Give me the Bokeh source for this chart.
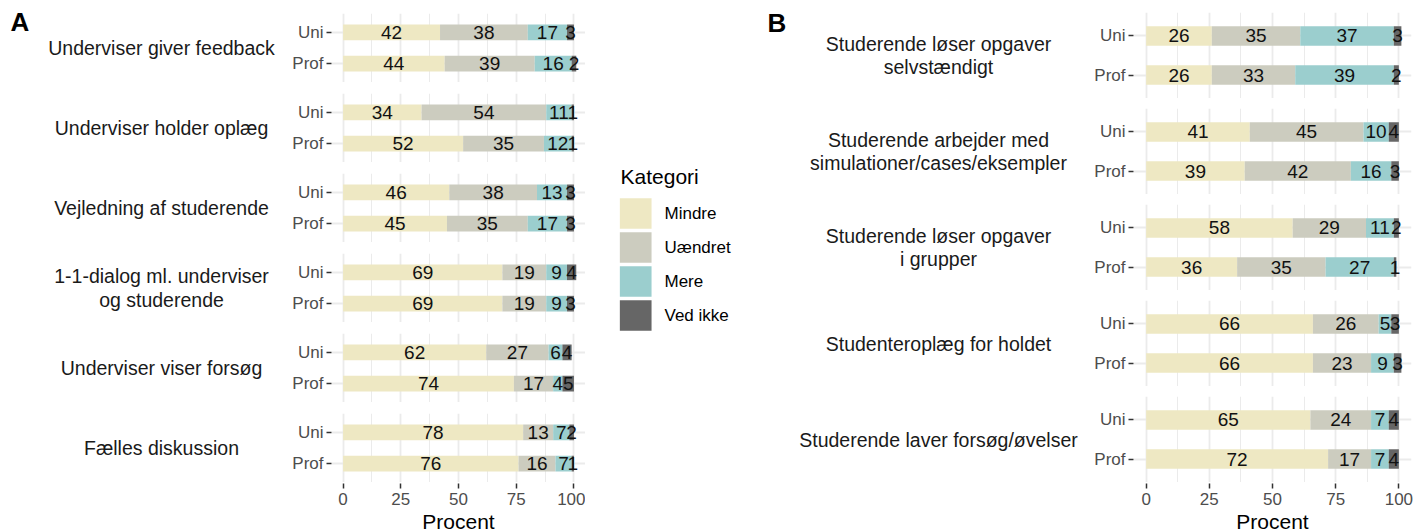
from bokeh.plotting import figure
from bokeh.layouts import row, column
from bokeh.models import ColumnDataSource, FactorRange, Range1d, FixedTicker, Spacer
from bokeh.core.properties import value
from bokeh.embed import file_html
from bokeh.resources import INLINE

FONT = "Liberation Sans"

# ---------------- data ----------------
categories = ["Mindre", "Uændret", "Mere", "Ved ikke"]
colors = ["#EEE8C3", "#CCCCBF", "#9BCECE", "#666666"]
groups = ["Uni", "Prof"]
x_ticks = [0, 25, 50, 75, 100]
x_minor_ticks = [12.5, 37.5, 62.5, 87.5]
x_label = "Procent"
legend_title = "Kategori"

a_items = ["Underviser giver feedback", "Underviser holder oplæg", "Vejledning af studerende",
           "1-1-dialog ml. underviser\nog studerende", "Underviser viser forsøg", "Fælles diskussion"]
a_mindre_uni = [42, 34, 46, 69, 62, 78]
a_mindre_prof = [44, 52, 45, 69, 74, 76]
a_uaendret_uni = [38, 54, 38, 19, 27, 13]
a_uaendret_prof = [39, 35, 35, 19, 17, 16]
a_mere_uni = [17, 11, 13, 9, 6, 7]
a_mere_prof = [16, 12, 17, 9, 4, 7]
a_vedikke_uni = [3, 1, 3, 4, 4, 2]
a_vedikke_prof = [2, 1, 3, 3, 5, 1]

b_items = ["Studerende løser opgaver\nselvstændigt", "Studerende arbejder med\nsimulationer/cases/eksempler",
           "Studerende løser opgaver\ni grupper", "Studenteroplæg for holdet", "Studerende laver forsøg/øvelser"]
b_mindre_uni = [26, 41, 58, 66, 65]
b_mindre_prof = [26, 39, 36, 66, 72]
b_uaendret_uni = [35, 45, 29, 26, 24]
b_uaendret_prof = [33, 42, 35, 23, 17]
b_mere_uni = [37, 10, 11, 5, 7]
b_mere_prof = [39, 16, 27, 9, 7]
b_vedikke_uni = [3, 4, 2, 3, 4]
b_vedikke_prof = [2, 3, 1, 3, 4]

GRID = "#EBEBEB"


def base_fig(**kw):
    return figure(toolbar_location=None, output_backend="svg", outline_line_color=None,
                  background_fill_color="white", border_fill_color="white", **kw)


def facet_fig(uni, prof, fw, fh, top, left, right):
    data = {"grp": groups}
    for c, u, pv in zip(categories, uni, prof):
        data[c] = [u, pv]
    src = ColumnDataSource(data)
    lx, ly, lt = [], [], []
    for g, vals in zip(groups, (uni, prof)):
        s = 0
        for v in vals:
            lx.append(s + v / 2)
            ly.append(g)
            lt.append(str(v))
            s += v
    p = base_fig(y_range=FactorRange(factors=groups[::-1], range_padding=0.1),
                 x_range=Range1d(-5, 105), frame_width=fw, frame_height=fh,
                 min_border_top=top, min_border_bottom=0, min_border_left=left, min_border_right=right,
                 x_axis_location=None)
    p.hbar_stack(categories, y="grp", height=0.5, color=colors, line_color=None, source=src)
    p.text(x=lx, y=ly, text=lt, text_align="center", text_baseline="middle",
           text_font=value(FONT), text_font_size="19px", text_color="#111111")
    p.xgrid.ticker = FixedTicker(ticks=x_ticks, minor_ticks=x_minor_ticks)
    p.xgrid.grid_line_color = GRID
    p.xgrid.grid_line_width = 1.8
    p.xgrid.minor_grid_line_color = GRID
    p.xgrid.minor_grid_line_width = 1.0
    p.ygrid.grid_line_color = GRID
    p.ygrid.grid_line_width = 1.8
    ya = p.yaxis[0]
    ya.axis_line_color = None
    ya.major_tick_in = 0
    ya.major_tick_out = 5
    ya.major_tick_line_color = "#333333"
    ya.major_tick_line_width = 1.5
    ya.major_label_standoff = 3
    ya.major_label_text_font = FONT
    ya.major_label_text_font_size = "17px"
    ya.major_label_text_color = "#4D4D4D"
    return p


def axis_fig(fw, left, right):
    p = base_fig(x_range=Range1d(-5, 105), y_range=Range1d(0, 1), frame_width=fw, frame_height=1,
                 min_border_top=0, min_border_bottom=0, min_border_left=left, min_border_right=right,
                 y_axis_location=None)
    p.grid.visible = False
    xa = p.xaxis[0]
    xa.ticker = FixedTicker(ticks=x_ticks, minor_ticks=[])
    xa.axis_line_color = None
    xa.major_tick_in = 0
    xa.major_tick_out = 5
    xa.minor_tick_line_color = None
    xa.major_tick_line_color = "#333333"
    xa.major_tick_line_width = 1.5
    xa.major_label_standoff = 4
    xa.major_label_text_font = FONT
    xa.major_label_text_font_size = "17px"
    xa.major_label_text_color = "#4D4D4D"
    xa.axis_label = x_label
    xa.axis_label_standoff = 2
    xa.axis_label_text_font = FONT
    xa.axis_label_text_font_size = "21px"
    xa.axis_label_text_font_style = "normal"
    xa.axis_label_text_color = "#000000"
    return p


def panel(items, mu, mp, uu, up, eu, ep, vu, vp, letter, lw, lcx, lx, ly,
          fw, fh, top, left, right, gap):
    n = len(items)
    facets = []
    centers = []
    for i in range(n):
        uni = [mu[i], uu[i], eu[i], vu[i]]
        prof = [mp[i], up[i], ep[i], vp[i]]
        t = top if i == 0 else 0
        facets.append(facet_fig(uni, prof, fw, fh, t, left, right))
        centers.append(top + i * (fh + gap) + fh / 2)
    total_h = top + n * fh + (n - 1) * gap
    lab = base_fig(x_range=Range1d(0, lw), y_range=Range1d(total_h, 0), width=lw, height=total_h,
                   min_border=0, x_axis_location=None, y_axis_location=None)
    lab.grid.visible = False
    lab.text(x=[lcx] * n, y=centers, text=items, text_align="center", text_baseline="middle",
             text_font=value(FONT), text_font_size="19.5px", text_color="#1A1A1A", text_line_height=1.06)
    lab.text(x=[lx], y=[ly], text=[letter], text_align="left", text_baseline="top",
             text_font=value(FONT), text_font_size="26px", text_font_style="bold", text_color="#000000")
    top_part = row(lab, column(*facets, spacing=gap))
    bottom_part = row(Spacer(width=lw, height=1), axis_fig(fw, left, right))
    return column(top_part, bottom_part)


panel_a = panel(a_items, a_mindre_uni, a_mindre_prof, a_uaendret_uni, a_uaendret_prof,
                a_mere_uni, a_mere_prof, a_vedikke_uni, a_vedikke_prof,
                "A", 278, 161, 10, 6, 254, 69, 13, 53, 0, 11)

panel_b = panel(b_items, b_mindre_uni, b_mindre_prof, b_uaendret_uni, b_uaendret_prof,
                b_mere_uni, b_mere_prof, b_vedikke_uni, b_vedikke_prof,
                "B", 323, 178, 7, 7, 278, 86, 12, 50, 3, 10)

# ---------------- legend ----------------
leg_w = 175
leg = base_fig(x_range=Range1d(0, leg_w), y_range=FactorRange(factors=categories[::-1] + [legend_title]),
               width=leg_w, height=170, min_border=0, x_axis_location=None, y_axis_location=None)
leg.grid.visible = False
leg.rect(x=50.2, y=categories, width=31.7, height=0.9, color=colors, line_color=None)
leg.text(x=79, y=categories, text=categories, text_align="left", text_baseline="middle",
         text_font=value(FONT), text_font_size="17px", text_color="#000000")
leg.text(x=35, y=[legend_title], text=[legend_title], text_align="left", text_baseline="middle",
         y_offset=-3, text_font=value(FONT), text_font_size="21px", text_color="#000000")
legend_col = column(Spacer(width=leg_w, height=162), leg)

layout = row(panel_a, legend_col, panel_b)
open("out.html", "w").write(file_html(layout, INLINE))
